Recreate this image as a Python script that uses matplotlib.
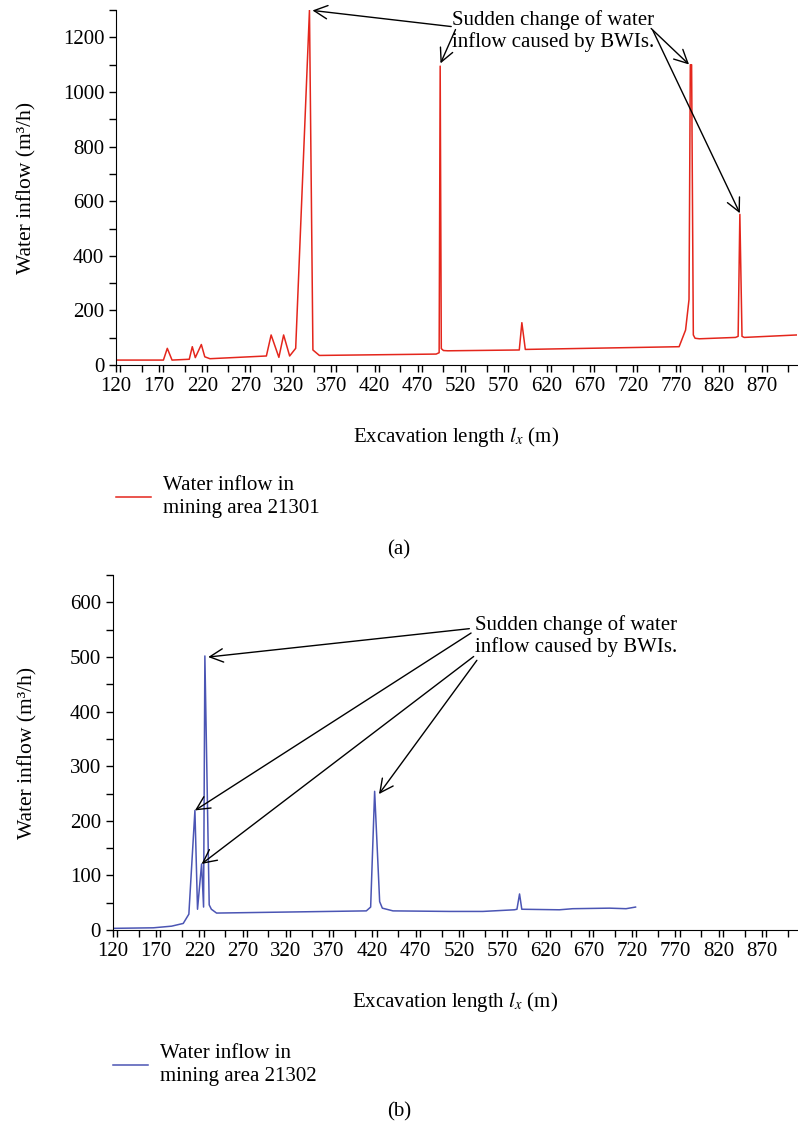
import matplotlib
matplotlib.use("Agg")
import matplotlib.pyplot as plt
from matplotlib.ticker import MultipleLocator

plt.rcParams["font.family"] = ["Liberation Serif", "DejaVu Serif"]
plt.rcParams["mathtext.fontset"] = "stix"

# panel (a): mining area 21301
x_a = [120, 175, 179.5, 185, 205, 208.5, 212, 219, 223, 229, 294.5, 300, 309,
       314.5, 321.5, 328.5, 344.5, 348.5, 356, 491.5, 495, 496.2, 497.5, 500,
       505, 588, 591, 595, 773.5, 781, 785, 786.5, 788, 790, 792, 797, 839,
       842, 844, 846.5, 849, 910]
y_a = [18, 18, 61, 18, 21, 67, 27, 75, 30, 23, 33, 110, 28, 110, 33, 61, 1300,
       55, 35, 40, 45, 1095, 60, 53, 52, 55, 155, 57, 67, 128, 240, 1100, 1100,
       110, 98, 96, 101, 105, 552, 105, 101, 110]

# panel (b): mining area 21302
x_b = [120, 167, 188, 201.5, 208, 215, 218, 222.7, 225, 226.5, 231.5, 234, 240,
       413, 418, 422.6, 428.4, 431.5, 443.8, 509, 547.6, 584, 587, 590, 592.6,
       636, 651.5, 693.8, 713, 724]
y_b = [3, 4, 7, 12, 29, 219, 38, 121, 42, 502, 46, 38, 31, 35, 42, 254, 52, 40,
       35, 34, 34, 37, 38, 66, 38, 37, 39, 40, 39, 42]

note = "Sudden change of water\ninflow caused by BWIs."
arrows_a = [((509, 1240), (348, 1299)), ((514, 1229), (496.6, 1105)),
            ((741, 1233), (785, 1101)), ((743, 1226), (844, 556))]
arrows_b = [((532, 552), (230.3, 500)), ((534, 544), (215, 219)),
            ((537, 501), (222.7, 121)), ((540.7, 494), (427.6, 249))]

FS = 15
fig = plt.figure(figsize=(7.98, 11.3), dpi=100)
ax1 = fig.add_axes([0.1454, 0.677, 0.853, 0.314])
ax2 = fig.add_axes([0.1412, 0.177, 0.857, 0.314])


def style(ax, ymax, ymaj, ymin, ypad):
    ax.set_xlim(120, 910)
    ax.set_ylim(0, ymax)
    ax.spines["top"].set_visible(False)
    ax.spines["right"].set_visible(False)
    ax.xaxis.set_minor_locator(MultipleLocator(25))
    ax.yaxis.set_major_locator(MultipleLocator(ymaj))
    ax.yaxis.set_minor_locator(MultipleLocator(ymin))
    ax.set_xticks(range(120, 871, 50))
    ax.tick_params(which="both", direction="out", length=5, width=1,
                   labelsize=FS)
    ax.set_xlabel(r"Excavation length $l_x$ (m)", fontsize=FS, labelpad=21)
    ax.set_ylabel("Water inflow (m³/h)", fontsize=FS + 0.5, labelpad=ypad)


ax1.plot(x_a, y_a, color="#e4261c", lw=1.1, label="Water inflow in\nmining area 21301")
style(ax1, 1300, 200, 100, 19)
for (s, t) in arrows_a:
    ax1.annotate("", xy=t, xytext=s,
                 arrowprops=dict(arrowstyle="->", color="black", lw=1,
                                 mutation_scale=24, shrinkA=0, shrinkB=0))
ax1.text(510, 1222, note, fontsize=FS, va="center", ha="left", linespacing=1.15)

ax2.plot(x_b, y_b, color="#4b55b4", lw=1.1, label="Water inflow in\nmining area 21302")
style(ax2, 650, 100, 50, 23)
for (s, t) in arrows_b:
    ax2.annotate("", xy=t, xytext=s,
                 arrowprops=dict(arrowstyle="->", color="black", lw=1,
                                 mutation_scale=24, shrinkA=0, shrinkB=0))
ax2.text(539, 539, note, fontsize=FS, va="center", ha="left", linespacing=1.15)

for ax, x0, y0 in [(ax1, 116, 497), (ax2, 113, 1065)]:
    leg = ax.legend(loc="center left", bbox_to_anchor=(x0 / 798, 1 - y0 / 1130),
                    bbox_transform=fig.transFigure, frameon=False, fontsize=FS,
                    handlelength=1.7, handletextpad=0.55, borderpad=0,
                    borderaxespad=0)
    for t in leg.get_texts():
        t.set_linespacing(1.3)

fig.text(0.5, 1 - 550 / 1130, "(a)", ha="center", va="center", fontsize=FS)
fig.text(0.5, 1 - 1112 / 1130, "(b)", ha="center", va="center", fontsize=FS)

fig.savefig("out.png", dpi=100)
